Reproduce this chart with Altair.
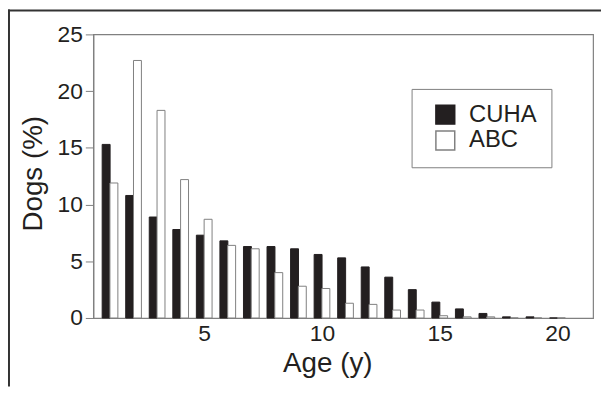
import altair as alt
import pandas as pd

ages = list(range(1, 21))
cuha = [15.3, 10.8, 8.9, 7.8, 7.3, 6.8, 6.3, 6.3, 6.1, 5.6, 5.3, 4.5, 3.6, 2.5, 1.4, 0.8, 0.4, 0.1, 0.1, 0.0]
abc = [11.9, 22.7, 18.3, 12.2, 8.7, 6.4, 6.1, 4.0, 2.8, 2.6, 1.3, 1.2, 0.7, 0.7, 0.2, 0.1, 0.1, 0.0, 0.0, 0.0]
series = ["CUHA", "ABC"]
x_ticks = [5, 10, 15, 20]
y_ticks = [0, 5, 10, 15, 20, 25]

rows = []
for a, c, b in zip(ages, cuha, abc):
    rows.append({"age": a, "series": "CUHA", "pct": c})
    rows.append({"age": a, "series": "ABC", "pct": b})
df = pd.DataFrame(rows)

FONT = "Liberation Sans"
TXT = "#231f20"
GRAY = "#808080"
W, H = 504, 286

legend_opts = dict(orient="none", legendX=321, legendY=55,
                   title=None, padding=14,
                   strokeColor=GRAY, fillColor="#ffffff",
                   symbolType="square", symbolSize=361,
                   symbolStrokeWidth=1.5, symbolOffset=8,
                   labelFontSize=24, labelOffset=12,
                   labelFont=FONT, labelColor=TXT,
                   rowPadding=0)

bars = alt.Chart(df).transform_calculate(
    xpos="datum.age + (datum.series == 'CUHA' ? -0.165 : 0.165)"
).mark_bar(width=8, strokeWidth=1).encode(
    x=alt.X("xpos:Q",
            scale=alt.Scale(domain=[0.5, 21.3], nice=False, zero=False),
            axis=alt.Axis(values=x_ticks, ticks=False, labelPadding=5,
                          labelFontSize=23, title="Age (y)", titleFontSize=28,
                          titleX=236, titleY=54, titleBaseline="alphabetic",
                          titleAlign="center")),
    y=alt.Y("pct:Q",
            scale=alt.Scale(domain=[0, 25], nice=False),
            axis=alt.Axis(values=y_ticks, tickSize=8, tickColor=GRAY,
                          labelPadding=3, labelFontSize=23, title="Dogs (%)",
                          titleFontSize=28, titleX=-52, titleY=140,
                          titleAngle=-90, titleBaseline="alphabetic",
                          titleAlign="center")),
    fill=alt.Fill("series:N",
                  scale=alt.Scale(domain=series, range=[TXT, "#ffffff"]),
                  legend=alt.Legend(**legend_opts)),
    stroke=alt.Stroke("series:N",
                      scale=alt.Scale(domain=series, range=[TXT, GRAY]),
                      legend=alt.Legend(**legend_opts)),
)

frame_data = alt.Data(values=[{"k": 1}])
top_line = alt.Chart(frame_data).mark_rule(color="#333333", strokeWidth=2).encode(
    x=alt.value(-86), x2=alt.value(512), y=alt.value(-24))
left_line = alt.Chart(frame_data).mark_rule(color="#333333", strokeWidth=2).encode(
    x=alt.value(-85), y=alt.value(-25), y2=alt.value(355))

chart = alt.layer(bars, top_line, left_line).properties(
    width=W, height=H,
    autosize=alt.AutoSizeParams(type="none"),
    padding={"left": 86, "top": 25, "right": 8, "bottom": 69},
).configure_view(
    stroke=GRAY, strokeWidth=1.2
).configure_axis(
    grid=False, domainColor=GRAY, domainWidth=1.2,
    labelFont=FONT, titleFont=FONT, labelColor=TXT, titleColor=TXT,
    titleFontWeight="normal"
)

chart.save("out.html", embed_options={"renderer": "svg", "actions": False})
